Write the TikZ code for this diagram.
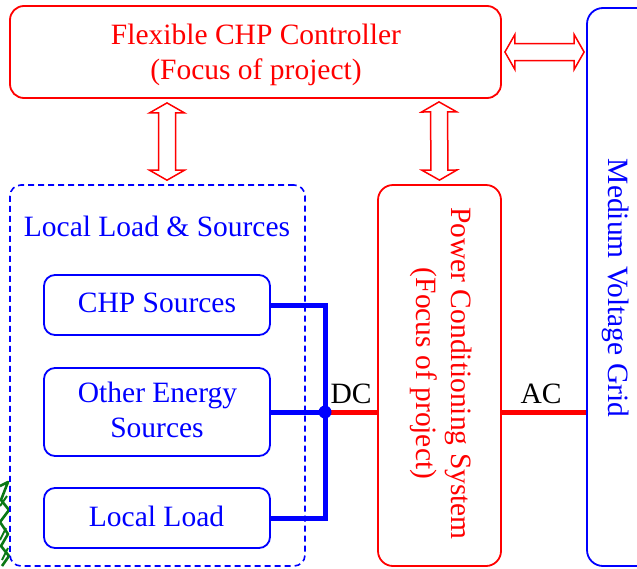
\documentclass[tikz,border=0pt]{standalone}
\usepackage{fontspec}
\setmainfont{Liberation Serif}
\usetikzlibrary{calc}

\definecolor{cred}{RGB}{255,0,0}
\definecolor{cblue}{RGB}{0,0,255}
\definecolor{leafgreen}{RGB}{10,120,20}

\tikzset{
  redbox/.style={draw=cred, line width=1.8pt, rounded corners=14pt, inner sep=0pt},
  bluebox/.style={draw=cblue, line width=1.8pt, rounded corners=11pt, inner sep=0pt},
  dashbox/.style={draw=cblue, line width=1.6pt, dash pattern=on 6pt off 4pt, rounded corners=11pt, inner sep=0pt},
  redtxt/.style={text=cred, anchor=base, inner sep=0pt},
  bluetxt/.style={text=cblue, anchor=base, inner sep=0pt},
  blacktxt/.style={text=black, anchor=base, inner sep=0pt},
  busline/.style={draw=cblue, line width=5pt},
  linkline/.style={draw=cred, line width=5pt},
  hollowarrow/.style={draw=cred, line width=1.5pt, fill=white, line join=miter},
}

% hollow double-headed arrow between two named points
\newcommand\hollowdbl[2]{%
  \draw[hollowarrow] (#1)
    -- ($(#1)!10pt!(#2)!17.5pt!90:(#2)$)
    -- ($(#1)!10pt!(#2)!8.5pt!90:(#2)$)
    -- ($(#2)!10pt!(#1)!8.5pt!-90:(#1)$)
    -- ($(#2)!10pt!(#1)!17.5pt!-90:(#1)$)
    -- (#2)
    -- ($(#2)!10pt!(#1)!17.5pt!90:(#1)$)
    -- ($(#2)!10pt!(#1)!8.5pt!90:(#1)$)
    -- ($(#1)!10pt!(#2)!8.5pt!-90:(#2)$)
    -- ($(#1)!10pt!(#2)!17.5pt!-90:(#2)$)
    -- cycle;}

\begin{document}
\begin{tikzpicture}[x=1pt, y=-1pt, font=\fontsize{29.5}{35}\selectfont]
\useasboundingbox (0,0) rectangle (637,568);
\clip (0,0) rectangle (637,568);
\fill[white] (0,0) rectangle (637,568);

% green leaf fragment at the left edge
\draw[leafgreen, line width=2.6pt, line join=round]
  (0,486) -- (8,482) -- (1,500) -- (9,510) -- (0,522) -- (8,534) -- (1,546) -- (9,556) -- (2,566);
\draw[leafgreen, line width=2pt] (0,506) -- (7,496) (0,540) -- (6,528) (2,560) -- (8,548);

% boxes
\node[redbox, minimum width=491pt, minimum height=92pt] (ctrl) at (255.5,52) {};
\node[redbox, rounded corners=15pt, minimum width=123pt, minimum height=381pt] (pcs) at (439.5,375.5) {};
\node[bluebox, rounded corners=16pt, minimum width=70pt, minimum height=558pt] (grid) at (622,287) {};
\node[dashbox, minimum width=295pt, minimum height=381pt] (local) at (157.5,375.5) {};
\node[bluebox, minimum width=226pt, minimum height=60pt] (chp) at (157,305) {};
\node[bluebox, minimum width=226pt, minimum height=88pt] (other) at (157,412) {};
\node[bluebox, minimum width=226pt, minimum height=60pt] (load) at (157,518) {};

% texts
\node[redtxt] (ctrlA) at (256,44.5) {Flexible CHP Controller};
\node[redtxt] (ctrlB) at (256,79.5) {(Focus of project)};
\node[bluetxt] (localT) at (157,236) {Local Load \& Sources};
\node[bluetxt] (chpT) at (157,312) {CHP Sources};
\node[bluetxt] (otherA) at (157.5,402) {Other Energy};
\node[bluetxt] (otherB) at (157,437) {Sources};
\node[bluetxt] (loadT) at (156.5,526) {Local Load};
\node[redtxt, rotate=-90] (pcsA) at (451,373.5) {Power Conditioning System};
\node[redtxt, rotate=-90] (pcsB) at (416,373.5) {(Focus of project)};
\node[bluetxt, rotate=-90] (gridT) at (608,288) {Medium Voltage Grid};

% DC bus and the AC link
\coordinate (j) at (325,412);
\draw[busline] (chp.east) -| (j);
\draw[busline] (load.east) -| (j);
\draw[busline] (other.east) -- (j);
\draw[linkline] (j) -- (pcs.west |- j);
\draw[linkline] (pcs.east |- j) -- (grid.west |- j);
\fill[cblue] (j) circle (6.5pt);
\node[blacktxt] (dcT) at (351,403) {DC};
\node[blacktxt] (acT) at (541,403) {AC};

% controller links
\coordinate (a1) at ($(ctrl.south)+(-88.5,4)$);
\coordinate (a2) at ($(local.north)+(9.5,-4)$);
\coordinate (b1) at ($(ctrl.south)+(183.5,3)$);
\coordinate (b2) at ($(pcs.north)+(0,-4)$);
\coordinate (c1) at ($(ctrl.east)+(3,0)$);
\coordinate (c2) at ($(grid.west |- ctrl.east)+(-2,0)$);
\hollowdbl{a1}{a2}
\hollowdbl{b1}{b2}
\hollowdbl{c1}{c2}
\end{tikzpicture}
\end{document}
